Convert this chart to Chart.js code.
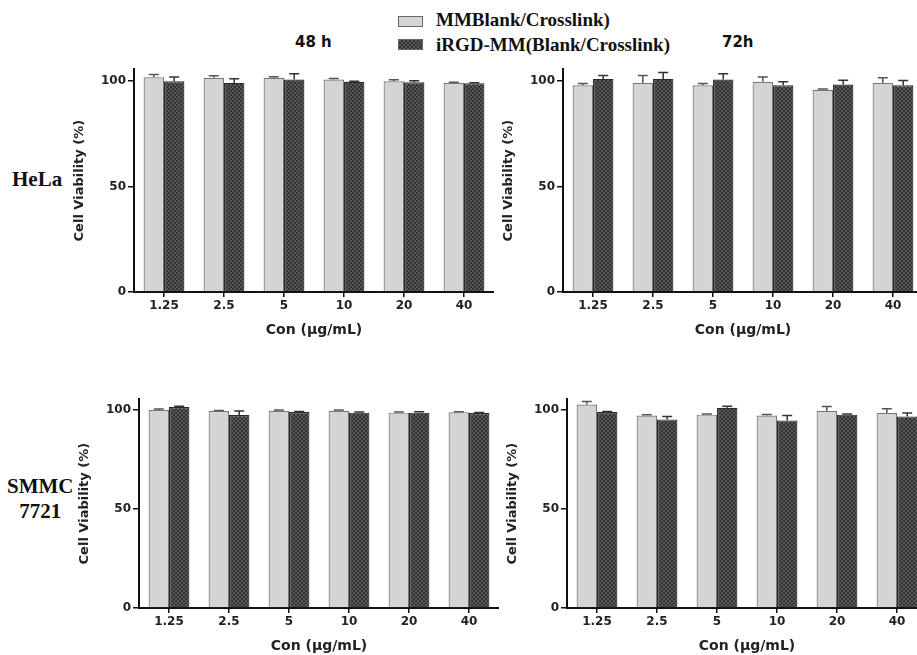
<!DOCTYPE html>
<html>
<head>
<meta charset="utf-8">
<script src="https://cdn.jsdelivr.net/npm/chart.js@4.4.0/dist/chart.umd.min.js"></script>
<style>
  html, body { margin: 0; padding: 0; background: #fff; overflow: hidden; }
  body { width: 917px; height: 655px; position: relative; }
  canvas { position: absolute; }
  .lbl { position: absolute; white-space: nowrap; color: #111; }
  .serif { font-family: "Liberation Serif", "Times New Roman", serif; font-weight: bold; }
  .sans { font-family: "DejaVu Sans", Arial, sans-serif; font-weight: bold; }
  .box { position: absolute; width: 23px; height: 9px; border: 1px solid #666; }
</style>
</head>
<body>
<div class="box" style="left:398px;top:16px;background:#d6d6d6;"></div>
<div class="lbl serif" style="left:436px;top:9px;font-size:19px;">MMBlank/Crosslink)</div>
<div class="box" id="legendDark" style="left:398px;top:39px;background:#555;"></div>
<div class="lbl serif" style="left:436px;top:34px;font-size:19px;">iRGD-MM(Blank/Crosslink)</div>

<div class="lbl sans" style="left:295px;top:33px;font-size:15px;">48 h</div>
<div class="lbl sans" style="left:722px;top:33px;font-size:15px;">72h</div>

<div class="lbl serif" style="left:12px;top:167px;font-size:21px;">HeLa</div>
<div class="lbl serif" style="left:7px;top:474px;font-size:21px;line-height:25px;text-align:center;">SMMC<br>7721</div>

<canvas id="hela48" width="426" height="282" style="left:68px;top:60px;"></canvas>
<canvas id="hela72" width="426" height="282" style="left:497px;top:60px;"></canvas>
<canvas id="smmc48" width="426" height="268" style="left:73px;top:390px;"></canvas>
<canvas id="smmc72" width="426" height="268" style="left:501px;top:390px;"></canvas>

<script>
const concentrations = ['1.25', '2.5', '5', '10', '20', '40'];
const yTicks = [0, 50, 100];
const seriesNames = ['MMBlank/Crosslink)', 'iRGD-MM(Blank/Crosslink)'];

// HeLa 48 h
const hela48Mm = [101.9, 101.6, 101.6, 100.8, 100.0, 99.2];
const hela48MmErr = [1.3, 1.0, 0.5, 0.5, 0.7, 0.3];
const hela48Irgd = [100.0, 99.2, 100.8, 99.7, 99.5, 99.0];
const hela48IrgdErr = [2.0, 2.0, 2.7, 0.3, 0.7, 0.3];

// HeLa 72 h
const hela72Mm = [98.1, 99.2, 98.1, 99.7, 95.9, 99.2];
const hela72MmErr = [0.8, 3.5, 0.8, 2.3, 0.4, 2.4];
const hela72Irgd = [101.1, 101.1, 100.8, 98.1, 98.4, 98.1];
const hela72IrgdErr = [1.6, 3.0, 2.8, 1.6, 2.0, 2.2];

// SMMC 7721 48 h
const smmc48Mm = [100.0, 99.5, 99.7, 99.7, 98.7, 98.9];
const smmc48MmErr = [0.5, 0.3, 0.3, 0.3, 0.3, 0.3];
const smmc48Irgd = [101.5, 97.5, 99.0, 98.7, 98.7, 98.5];
const smmc48IrgdErr = [0.5, 2.0, 0.3, 0.3, 0.5, 0.3];

// SMMC 7721 72 h
const smmc72Mm = [102.8, 97.3, 97.7, 97.3, 99.5, 98.5];
const smmc72MmErr = [1.5, 0.3, 0.3, 0.5, 2.3, 2.2];
const smmc72Irgd = [99.0, 95.3, 101.2, 94.8, 97.7, 96.8];
const smmc72IrgdErr = [0.3, 1.5, 0.8, 2.5, 0.3, 1.7];

const helaYMax = 105.7;
const smmcYMax = 105.5;

// checkered fill for the dark bars
function makePattern() {
  const c = document.createElement('canvas');
  c.width = 4; c.height = 4;
  const g = c.getContext('2d');
  g.fillStyle = '#585858';
  g.fillRect(0, 0, 4, 4);
  g.fillStyle = '#333';
  g.fillRect(0, 0, 2, 2);
  g.fillRect(2, 2, 2, 2);
  return g.createPattern(c, 'repeat');
}
const darkPattern = makePattern();

// one-sided (upper) error bars
const errorBars = {
  id: 'errorBars',
  afterDatasetsDraw(chart) {
    const ctx = chart.ctx;
    const y = chart.scales.y;
    chart.data.datasets.forEach((ds, i) => {
      const meta = chart.getDatasetMeta(i);
      ctx.save();
      ctx.strokeStyle = ds.errColor;
      ctx.lineWidth = 1.5;
      meta.data.forEach((bar, j) => {
        const top = y.getPixelForValue(ds.data[j] + ds.errors[j]);
        ctx.beginPath();
        ctx.moveTo(bar.x, bar.y);
        ctx.lineTo(bar.x, top);
        ctx.moveTo(bar.x - 5, top);
        ctx.lineTo(bar.x + 5, top);
        ctx.stroke();
      });
      ctx.restore();
    });
  }
};

const tickFont = { family: '"DejaVu Sans", Arial, sans-serif', size: 12, weight: 'bold' };
const xTitleFont = { family: '"DejaVu Sans", Arial, sans-serif', size: 14, weight: 'bold' };
const yTitleFont = { family: '"DejaVu Sans", Arial, sans-serif', size: 13, weight: 'bold' };

function makeChart(id, mm, mmErr, irgd, irgdErr, yMax) {
  return new Chart(document.getElementById(id), {
    type: 'bar',
    data: {
      labels: concentrations,
      datasets: [{
        label: seriesNames[0],
        data: mm,
        errors: mmErr,
        errColor: '#555',
        backgroundColor: '#d4d4d4',
        borderColor: '#777',
        borderWidth: 1.2
      }, {
        label: seriesNames[1],
        data: irgd,
        errors: irgdErr,
        errColor: '#333',
        backgroundColor: darkPattern,
        borderColor: '#2a2a2a',
        borderWidth: 1.2
      }]
    },
    options: {
      responsive: false,
      animation: false,
      layout: { padding: { top: 8, right: 0, left: 0, bottom: 0 } },
      datasets: { bar: { categoryPercentage: 0.68, barPercentage: 1.0 } },
      plugins: { legend: { display: false }, tooltip: { enabled: false } },
      scales: {
        x: {
          afterFit: s => { s.height = 50; },
          grid: { offset: false, drawOnChartArea: false, tickLength: 5, color: '#111', lineWidth: 1.5 },
          border: { color: '#111', width: 2 },
          ticks: { color: '#222', font: tickFont, padding: 2, maxRotation: 0 },
          title: { display: true, text: 'Con (μg/mL)', color: '#222', font: xTitleFont, padding: { top: 2, bottom: 3 } }
        },
        y: {
          min: 0,
          max: yMax,
          afterFit: s => { s.width = 66; },
          afterBuildTicks: s => { s.ticks = yTicks.map(v => ({ value: v })); },
          grid: { drawOnChartArea: false, tickLength: 6, color: '#111', lineWidth: 1.5 },
          border: { color: '#111', width: 2 },
          ticks: { color: '#222', font: tickFont, padding: 2 },
          title: { display: true, text: 'Cell Viability (%)', color: '#222', font: yTitleFont, padding: 4 }
        }
      }
    },
    plugins: [errorBars]
  });
}

makeChart('hela48', hela48Mm, hela48MmErr, hela48Irgd, hela48IrgdErr, helaYMax);
makeChart('hela72', hela72Mm, hela72MmErr, hela72Irgd, hela72IrgdErr, helaYMax);
makeChart('smmc48', smmc48Mm, smmc48MmErr, smmc48Irgd, smmc48IrgdErr, smmcYMax);
makeChart('smmc72', smmc72Mm, smmc72MmErr, smmc72Irgd, smmc72IrgdErr, smmcYMax);

document.getElementById('legendDark').style.background =
  'repeating-conic-gradient(#333 0 25%, #585858 0 50%) 0 0 / 4px 4px';
</script>
</body>
</html>
